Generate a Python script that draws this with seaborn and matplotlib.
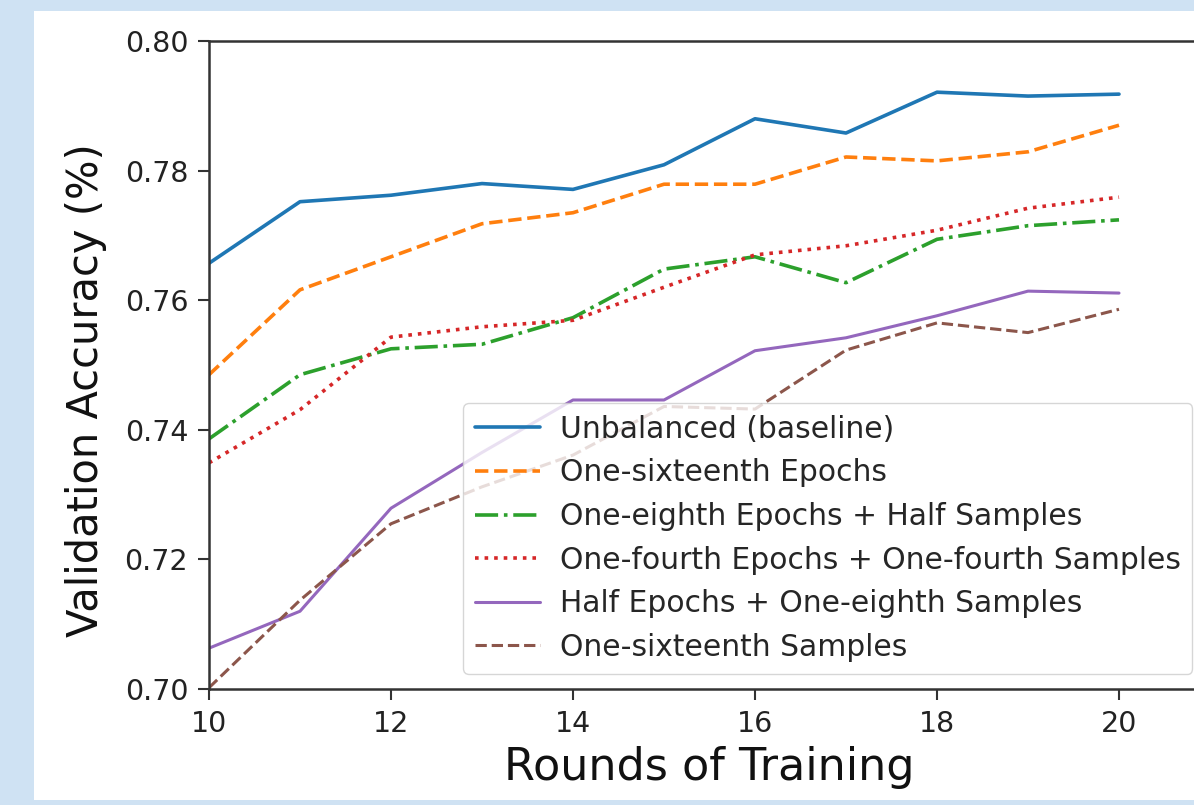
import matplotlib
matplotlib.use("Agg")
import matplotlib.pyplot as plt
from matplotlib.patches import Rectangle
import seaborn as sns
import pandas as pd

rounds = [10, 11, 12, 13, 14, 15, 16, 17, 18, 19, 20]

unbalanced = [0.7657, 0.7752, 0.7762, 0.7780, 0.7771, 0.7809, 0.7880, 0.7858, 0.7921, 0.7915, 0.7918]
one_sixteenth_epochs = [0.7485, 0.7616, 0.7667, 0.7718, 0.7735, 0.7779, 0.7779, 0.7821, 0.7815, 0.7829, 0.7870]
eighth_epochs_half_samples = [0.7386, 0.7485, 0.7525, 0.7532, 0.7573, 0.7648, 0.7667, 0.7627, 0.7694, 0.7715, 0.7724]
fourth_epochs_fourth_samples = [0.7349, 0.7431, 0.7543, 0.7559, 0.7569, 0.7620, 0.7670, 0.7684, 0.7708, 0.7742, 0.7759]
half_epochs_eighth_samples = [0.7063, 0.7120, 0.7279, 0.7365, 0.7446, 0.7446, 0.7522, 0.7542, 0.7576, 0.7614, 0.7611]
one_sixteenth_samples = [0.7002, 0.7137, 0.7255, 0.7312, 0.7361, 0.7436, 0.7432, 0.7523, 0.7565, 0.7550, 0.7586]

labels = [
    "Unbalanced (baseline)",
    "One-sixteenth Epochs",
    "One-eighth Epochs + Half Samples",
    "One-fourth Epochs + One-fourth Samples",
    "Half Epochs + One-eighth Samples",
    "One-sixteenth Samples",
]
series = [unbalanced, one_sixteenth_epochs, eighth_epochs_half_samples,
          fourth_epochs_fourth_samples, half_epochs_eighth_samples, one_sixteenth_samples]

colors = ["#1f77b4", "#ff7f0e", "#2ca02c", "#d62728", "#9467bd", "#8c564b"]
styles = ["-", "--", "-.", ":", "-", "--"]
widths = [2.6, 2.6, 2.6, 2.6, 2.2, 2.2]

sns.set_style("ticks")
plt.rcParams["font.family"] = ["DejaVu Sans"]

W, H = 1194, 805
fig = plt.figure(figsize=(W / 100, H / 100), dpi=100)
fig.patch.set_facecolor("#cfe2f3")
bg = Rectangle((34 / W, 5 / H), 1 - 34 / W, 789 / H,
               transform=fig.transFigure, facecolor="white",
               edgecolor="none", zorder=-10)
fig.add_artist(bg)

ax = fig.add_axes([209 / W, (H - 689) / H, 1001 / W, 648 / H])
ax.set_facecolor("white")

for lab, vals, c, ls, lw in zip(labels, series, colors, styles, widths):
    df = pd.DataFrame({"round": rounds, "acc": vals})
    sns.lineplot(data=df, x="round", y="acc", ax=ax, color=c, linestyle=ls,
                 linewidth=lw, label=lab)

ax.set_xlim(10, 21)
ax.set_ylim(0.70, 0.80)
ax.set_xticks([10, 12, 14, 16, 18, 20])
ax.set_yticks([0.70, 0.72, 0.74, 0.76, 0.78, 0.80])
ax.set_yticklabels(["0.70", "0.72", "0.74", "0.76", "0.78", "0.80"])
ax.tick_params(axis="both", labelsize=20.5, length=8, width=1.5, pad=7,
               colors="#333333", labelcolor="#222222")
for s in ax.spines.values():
    s.set_linewidth(1.8)
    s.set_color("#333333")

ax.set_xlabel("Rounds of Training", fontsize=32, color="#111111", labelpad=6)
ax.set_ylabel("Validation Accuracy (%)", fontsize=30, color="#111111")
ax.yaxis.set_label_coords(-0.102, 0.461)

leg = ax.legend(loc="upper left", bbox_to_anchor=(463 / W, (H - 403) / H),
                bbox_transform=fig.transFigure, borderaxespad=0, fontsize=21.4,
                frameon=True, framealpha=0.8, edgecolor="#cccccc",
                labelspacing=0.49, handlelength=2.2, handletextpad=0.65)

fig.savefig("out.png", dpi=100, facecolor=fig.get_facecolor())
